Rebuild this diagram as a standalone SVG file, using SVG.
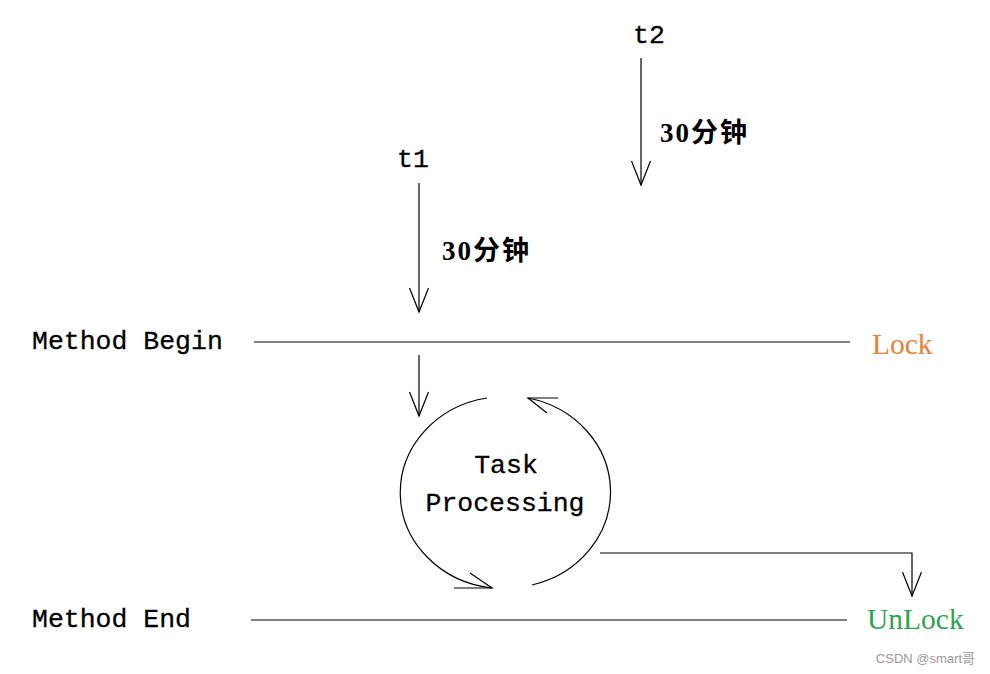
<svg xmlns="http://www.w3.org/2000/svg" width="990" height="674" viewBox="0 0 990 674">
<style>
.mono{font-family:"Liberation Mono","DejaVu Sans Mono",monospace;font-size:26.5px;fill:#000;stroke:#000;stroke-width:0.3}
.cn{font-family:"Liberation Serif","Noto Sans CJK SC",serif;font-size:27px;fill:#000;font-weight:bold;letter-spacing:2px}
.ln{stroke:#000;stroke-width:1.2;fill:none}
.st{font-family:"Liberation Serif",serif;font-size:29.5px}
</style>
<defs>
<marker id="v" viewBox="-26 -12 28 24" markerWidth="28" markerHeight="24" refX="0" refY="0" orient="auto" markerUnits="userSpaceOnUse" overflow="visible">
<path d="M-24,-9.5 L0,0 L-24,9.5" fill="none" stroke="#000" stroke-width="1.2"/>
</marker>
</defs>
<rect width="990" height="674" fill="#fff"/>
<g id="connectors">
<line class="ln" x1="641" y1="58" x2="641" y2="185" marker-end="url(#v)"/>
<line class="ln" x1="419" y1="183" x2="419" y2="312" marker-end="url(#v)"/>
<line class="ln" x1="254" y1="342" x2="850" y2="342"/>
<line class="ln" x1="251" y1="620" x2="847" y2="620"/>
<line class="ln" x1="419" y1="355" x2="419" y2="416" marker-end="url(#v)"/>
<path class="ln" d="M600,553 H912 V596" marker-end="url(#v)"/>
</g>
<g id="t2">
<text class="mono" x="633" y="43">t2</text>
<text class="cn" x="660" y="142">30分钟</text>
</g>
<g id="t1">
<text class="mono" x="397" y="167">t1</text>
<text class="cn" x="442" y="260">30分钟</text>
</g>
<g id="method-begin">
<text class="mono" x="32" y="349">Method Begin</text>
</g>
<g id="method-end">
<text class="mono" x="32" y="627">Method End</text>
</g>
<g id="lock">
<text class="st" x="872" y="354" fill="#E8803A">Lock</text>
</g>
<g id="unlock">
<text class="st" x="867" y="629" fill="#2EA44F">UnLock</text>
</g>
<g id="task">
<path class="ln" d="M487,398 A104,96 0 0,0 492,588"/>
<path class="ln" d="M528,398 A104,96 0 0,1 532,585"/>
<path class="ln" d="M558,398 H528 L547,413"/>
<path class="ln" d="M454,588 H492 L470,573"/>
<text class="mono" x="506" y="473" text-anchor="middle">Task</text>
<text class="mono" x="505" y="511" text-anchor="middle">Processing</text>
</g>
<text x="975" y="663" text-anchor="end" font-family="'Liberation Sans','Noto Sans CJK SC',sans-serif" font-size="13" fill="#999">CSDN @smart哥</text>
</svg>
